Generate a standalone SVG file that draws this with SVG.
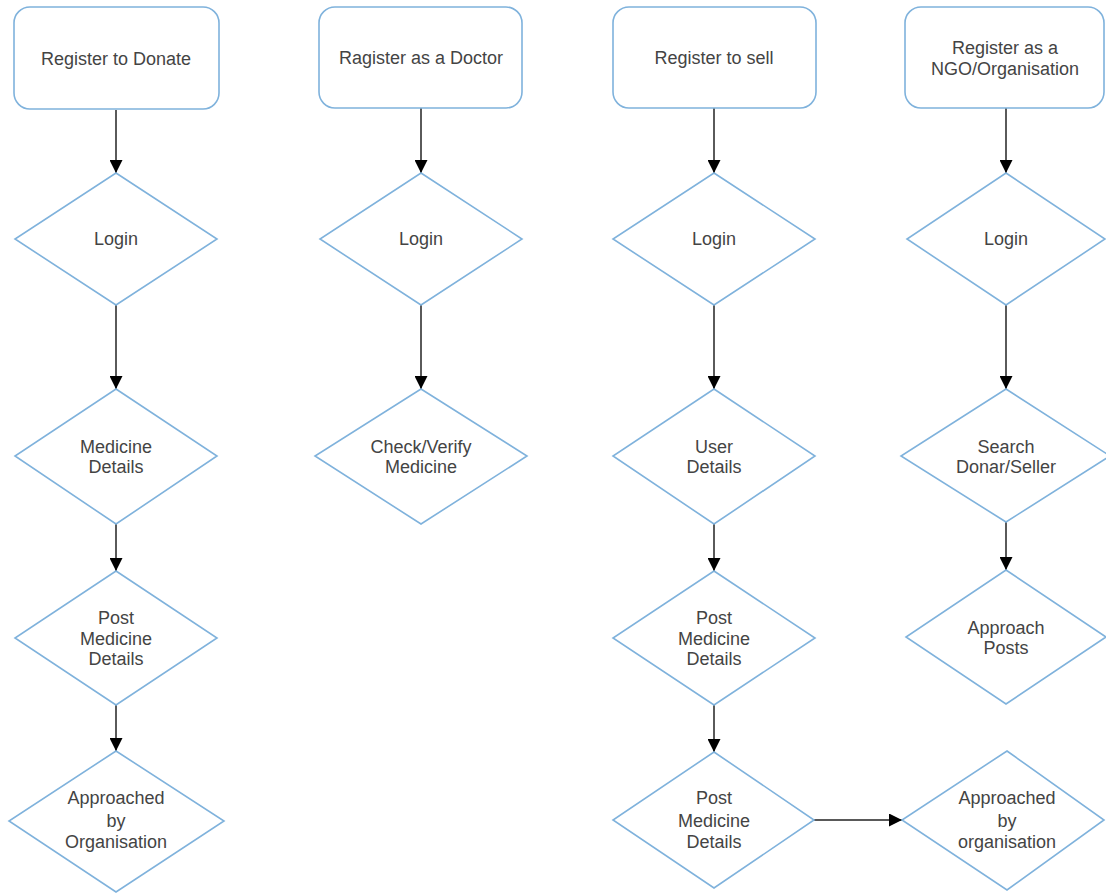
<svg xmlns="http://www.w3.org/2000/svg" width="1106" height="894" viewBox="0 0 1106 894">
<defs>
<style>
.box{fill:#ffffff;stroke:#7fb2dc;stroke-width:1.6}
.t{font-family:"Liberation Sans",Arial,sans-serif;font-size:18px;fill:#444444;text-anchor:middle}
.c{fill:none;stroke:#5a5a5a;stroke-width:2}
.h{fill:none;stroke:#222;stroke-width:1.6}
</style>
<marker id="ah" viewBox="0 0 10 10" refX="10" refY="5" markerWidth="13" markerHeight="13" markerUnits="userSpaceOnUse" orient="auto">
<path d="M0,0 L10,5 L0,10 Z" fill="#000"/>
</marker>
</defs>
<rect width="1106" height="894" fill="#ffffff"/>
<g id="connectors">
<line class="c" x1="116" y1="110" x2="116" y2="173" marker-end="url(#ah)"/>
<line class="c" x1="116" y1="305" x2="116" y2="389" marker-end="url(#ah)"/>
<line class="c" x1="116" y1="524" x2="116" y2="571" marker-end="url(#ah)"/>
<line class="c" x1="116" y1="705" x2="116" y2="751" marker-end="url(#ah)"/>
<line class="c" x1="421" y1="108" x2="421" y2="173" marker-end="url(#ah)"/>
<line class="c" x1="421" y1="305" x2="421" y2="389" marker-end="url(#ah)"/>
<line class="c" x1="714" y1="108" x2="714" y2="173" marker-end="url(#ah)"/>
<line class="c" x1="714" y1="305" x2="714" y2="389" marker-end="url(#ah)"/>
<line class="c" x1="714" y1="524" x2="714" y2="571" marker-end="url(#ah)"/>
<line class="c" x1="714" y1="705" x2="714" y2="752" marker-end="url(#ah)"/>
<line class="c" x1="1006" y1="108" x2="1006" y2="173" marker-end="url(#ah)"/>
<line class="c" x1="1006" y1="305" x2="1006" y2="389" marker-end="url(#ah)"/>
<line class="c" x1="1006" y1="522" x2="1006" y2="570" marker-end="url(#ah)"/>
<line class="h" x1="814" y1="820" x2="902" y2="820" marker-end="url(#ah)"/>
</g>
<g id="n1"><rect class="box" x="14" y="7" width="205" height="102" rx="16"/><text class="t" x="116" y="65">Register to Donate</text></g>
<g id="n2"><polygon class="box" points="116,173 217,239 116,305 15,239"/><text class="t" x="116" y="245">Login</text></g>
<g id="n3"><polygon class="box" points="116,389 217,456 116,524 15,456"/><text class="t" x="116" y="453">Medicine</text><text class="t" x="116" y="473">Details</text></g>
<g id="n4"><polygon class="box" points="116,571 217,638 116,705 15,638"/><text class="t" x="116" y="624">Post</text><text class="t" x="116" y="645">Medicine</text><text class="t" x="116" y="665">Details</text></g>
<g id="n5"><polygon class="box" points="116,751 224,821 116,892 9,821"/><text class="t" x="116" y="804">Approached</text><text class="t" x="116" y="827">by</text><text class="t" x="116" y="848">Organisation</text></g>
<g id="n6"><rect class="box" x="319" y="7" width="203" height="101" rx="16"/><text class="t" x="421" y="64">Ragister as a Doctor</text></g>
<g id="n7"><polygon class="box" points="421,173 522,239 421,305 320,239"/><text class="t" x="421" y="245">Login</text></g>
<g id="n8"><polygon class="box" points="421,389 527,456 421,524 315,456"/><text class="t" x="421" y="453">Check/Verify</text><text class="t" x="421" y="473">Medicine</text></g>
<g id="n9"><rect class="box" x="613" y="7" width="203" height="101" rx="16"/><text class="t" x="714" y="64">Register to sell</text></g>
<g id="n10"><polygon class="box" points="714,173 815,239 714,305 613,239"/><text class="t" x="714" y="245">Login</text></g>
<g id="n11"><polygon class="box" points="714,389 815,456 714,524 613,456"/><text class="t" x="714" y="453">User</text><text class="t" x="714" y="473">Details</text></g>
<g id="n12"><polygon class="box" points="714,571 815,638 714,705 613,638"/><text class="t" x="714" y="624">Post</text><text class="t" x="714" y="645">Medicine</text><text class="t" x="714" y="665">Details</text></g>
<g id="n13"><polygon class="box" points="714,752 814,820 714,888 613,820"/><text class="t" x="714" y="804">Post</text><text class="t" x="714" y="827">Medicine</text><text class="t" x="714" y="848">Details</text></g>
<g id="n14"><rect class="box" x="905" y="7" width="199" height="101" rx="16"/><text class="t" x="1005" y="54">Register as a</text><text class="t" x="1005" y="75">NGO/Organisation</text></g>
<g id="n15"><polygon class="box" points="1006,173 1105,239 1006,305 907,239"/><text class="t" x="1006" y="245">Login</text></g>
<g id="n16"><polygon class="box" points="1006,389 1110,456 1006,522 901,456"/><text class="t" x="1006" y="453">Search</text><text class="t" x="1006" y="473">Donar/Seller</text></g>
<g id="n17"><polygon class="box" points="1006,570 1106,637 1006,704 906,637"/><text class="t" x="1006" y="634">Approach</text><text class="t" x="1006" y="654">Posts</text></g>
<g id="n18"><polygon class="box" points="1007,751 1104,820 1007,890 902,820"/><text class="t" x="1007" y="804">Approached</text><text class="t" x="1007" y="827">by</text><text class="t" x="1007" y="848">organisation</text></g>
</svg>
